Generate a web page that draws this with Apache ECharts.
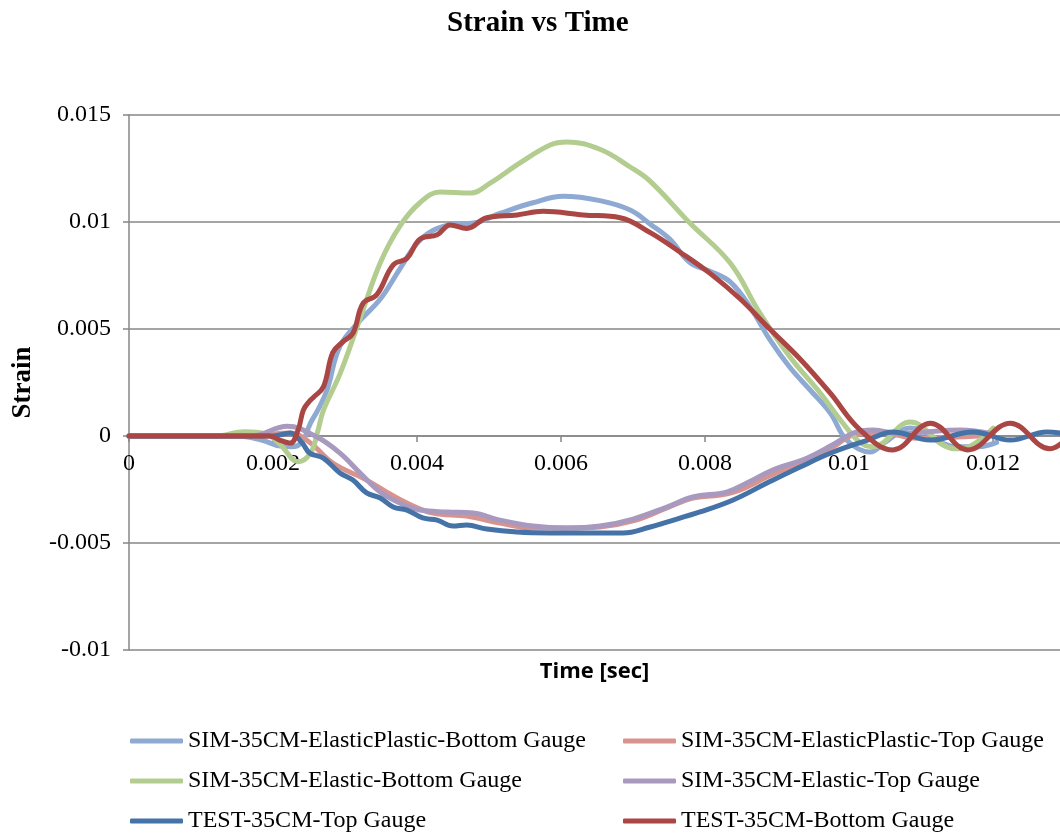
<!DOCTYPE html>
<html>
<head>
<meta charset="utf-8">
<script src="https://cdn.jsdelivr.net/npm/echarts@6/dist/echarts.min.js"></script>
<style>html,body{margin:0;padding:0;background:#fff}#c{width:1060px;height:833px}</style>
</head>
<body>
<div id="c"></div>
<script>
const seriesNames = [
  'SIM-35CM-ElasticPlastic-Bottom Gauge',
  'SIM-35CM-ElasticPlastic-Top Gauge',
  'SIM-35CM-Elastic-Bottom Gauge',
  'SIM-35CM-Elastic-Top Gauge',
  'TEST-35CM-Top Gauge',
  'TEST-35CM-Bottom Gauge'
];
const xTicks = [0, 0.002, 0.004, 0.006, 0.008, 0.01, 0.012];
const yTicks = [-0.01, -0.005, 0, 0.005, 0.01, 0.015];

// SIM ElasticPlastic Bottom
const tEPB = [0,0.0015,0.00185,0.0021,0.00226,0.0024,0.00252,0.00262,0.00275,0.00293,0.00321,0.00349,0.00376,0.004,0.00422,0.0045,0.00478,0.00515,0.00561,0.00603,0.00654,0.00696,0.00724,0.00751,0.00779,0.00807,0.00835,0.00863,0.0089,0.00918,0.00946,0.00974,0.00997,0.01029,0.0105,0.01085,0.0115,0.0118,0.01205];
const sEPB = [0,0,-0.0002,-0.00047,-0.0005,-0.0003,0.0006,0.0012,0.00215,0.0042,0.0054,0.0064,0.0078,0.009,0.0096,0.0099,0.00995,0.0104,0.0109,0.0112,0.011,0.01056,0.0099,0.0092,0.0081,0.0077,0.0072,0.006,0.0045,0.0032,0.00215,0.00107,-0.0002,-0.00075,-0.0003,0.00037,-0.0005,-0.0005,-0.0003];

// SIM ElasticPlastic Top
const tEPT = [0,0.0017,0.00224,0.00251,0.00283,0.0033,0.00358,0.00386,0.00422,0.00469,0.00515,0.00561,0.00608,0.00654,0.007,0.00747,0.00783,0.00821,0.00849,0.00886,0.00932,0.00978,0.01006,0.01047,0.01094,0.0115,0.012];
const sEPT = [0,0,0.00014,-0.0003,-0.00126,-0.00206,-0.00262,-0.00313,-0.0036,-0.00374,-0.00407,-0.0043,-0.0043,-0.00425,-0.00397,-0.00336,-0.0029,-0.00276,-0.00252,-0.00192,-0.00121,-0.0005,0.00005,0.00014,-0.0001,-0.00005,0.00005];

// SIM Elastic Bottom
const tEB = [0,0.0012,0.0016,0.0019,0.0021,0.00235,0.00252,0.00262,0.0027,0.00293,0.00321,0.00349,0.00376,0.00404,0.00432,0.00474,0.00501,0.00543,0.00585,0.00608,0.00654,0.00696,0.00724,0.00779,0.00835,0.00876,0.00918,0.0096,0.00988,0.01015,0.01033,0.01085,0.0114,0.01155,0.012];
const sEB = [0,0,0.0002,0.0001,-0.0004,-0.0012,-0.0008,0.0002,0.0012,0.0029,0.0055,0.0081,0.0098,0.0109,0.0114,0.01135,0.0118,0.01276,0.0136,0.01374,0.0134,0.01257,0.0119,0.00995,0.00808,0.00575,0.00369,0.00201,0.00075,-0.0003,-0.0005,0.00065,-0.00056,-0.0006,0.00037];

// SIM Elastic Top
const tET = [0,0.0017,0.0022,0.00261,0.00293,0.00321,0.00349,0.00376,0.00404,0.00442,0.00478,0.00515,0.00561,0.00608,0.00654,0.007,0.00747,0.00783,0.0083,0.00858,0.00894,0.00942,0.00978,0.01006,0.01033,0.01071,0.0111,0.01154,0.012];
const sET = [0,0,0.00045,-0.00005,-0.0008,-0.00173,-0.00262,-0.00313,-0.00346,-0.00355,-0.0036,-0.00393,-0.00421,-0.0043,-0.00421,-0.00388,-0.00332,-0.00285,-0.00262,-0.0022,-0.00159,-0.00103,-0.0004,0.00014,0.00028,0.0001,0.0002,0.00028,0.0001];

// TEST Top
const tTT = [0,0.002,0.00224,0.0024,0.00251,0.0027,0.00293,0.00311,0.0033,0.00349,0.00367,0.00386,0.00408,0.00428,0.0045,0.00469,0.00497,0.00539,0.00585,0.00631,0.00686,0.00724,0.00747,0.00793,0.00839,0.00886,0.00932,0.00978,0.01025,0.01061,0.01113,0.01172,0.01224,0.01275,0.013];
const sTT = [0,0,0.00014,-0.0003,-0.0008,-0.00103,-0.00173,-0.00206,-0.00266,-0.0029,-0.00332,-0.00346,-0.00383,-0.00393,-0.00421,-0.00416,-0.00435,-0.00449,-0.00453,-0.00453,-0.00453,-0.00425,-0.00402,-0.00355,-0.00299,-0.0022,-0.00145,-0.00075,-0.0002,0.00019,-0.00019,0.00019,-0.00019,0.00019,0.0001];

// TEST Bottom
const tTB = [0,0.0014,0.00195,0.0021,0.00224,0.00235,0.00242,0.0025,0.00256,0.0027,0.00283,0.00297,0.00311,0.00325,0.00344,0.00367,0.00386,0.00404,0.00428,0.00446,0.00469,0.00497,0.00539,0.00575,0.00631,0.00682,0.00724,0.00765,0.00807,0.00849,0.0089,0.00932,0.00974,0.01015,0.01061,0.01113,0.01165,0.01224,0.01279,0.013];
const sTB = [0,0,0,-0.0002,-0.00033,0.0003,0.0012,0.0016,0.0018,0.0023,0.0039,0.0044,0.0048,0.0062,0.0066,0.008,0.0083,0.0092,0.0094,0.00986,0.0097,0.0102,0.01033,0.0105,0.01033,0.0102,0.0095,0.0086,0.0076,0.0064,0.005,0.0036,0.002,0.0003,-0.00065,0.0006,-0.00065,0.0006,-0.0006,-0.0002];

const colors = ['#8EAAD2', '#D8938F', '#B3CD90', '#A899BF', '#4572A7', '#AA4643'];
const times = [tEPB, tEPT, tEB, tET, tTT, tTB];
const vals = [sEPB, sEPT, sEB, sET, sTT, sTB];

const zip = (t, s) => t.map((x, i) => [x, s[i]]);
const serif = 'Liberation Serif';
const gray = '#878787';

// legend placement: column (0 = left, 1 = right) and row per series
const legendCol = [0, 1, 0, 1, 0, 1];
const legendRow = [0, 0, 1, 1, 2, 2];
const colLeft = [125, 618];
const rowTop = [724, 764, 804];

const yMin = -0.01, yMax = 0.015;
const gridTop = 115, gridBottomPx = 650;
// pixel offset that lifts the x axis from the plot bottom to the value 0
const zeroOffset = -(gridBottomPx - gridTop) * (0 - yMin) / (yMax - yMin);

const chart = echarts.init(document.getElementById('c'), null, {renderer: 'canvas'});
chart.setOption({
  animation: false,
  backgroundColor: '#fff',
  title: {
    text: 'Strain vs Time',
    left: 442, top: 4,
    textStyle: {fontFamily: serif, fontWeight: 'bold', fontSize: 29, color: '#000'}
  },
  grid: {left: 129, top: gridTop, right: 0, bottom: 833 - gridBottomPx, containLabel: false, outerBoundsMode: 'none'},
  xAxis: {
    type: 'value', min: 0, max: 0.01293, interval: 0.002,
    position: 'bottom', offset: zeroOffset,
    name: 'Time [sec]', nameLocation: 'middle', nameGap: 225,
    nameTextStyle: {fontFamily: 'Open Sans', fontWeight: 'bold', fontSize: 22, color: '#000'},
    axisLine: {onZero: false, lineStyle: {color: gray, width: 1.5}},
    axisTick: {show: true, length: 6, lineStyle: {color: gray, width: 1.5}},
    axisLabel: {
      margin: 16, fontFamily: serif, fontSize: 24, color: '#000', showMaxLabel: false,
      formatter: v => (xTicks.some(t => Math.abs(t - v) < 1e-9) ? String(+v.toFixed(4)) : '')
    },
    splitLine: {show: false}
  },
  yAxis: {
    type: 'value', min: yMin, max: yMax, interval: 0.005,
    name: 'Strain', nameLocation: 'middle', nameGap: 92, nameRotate: 90,
    nameTextStyle: {fontFamily: serif, fontWeight: 'bold', fontSize: 27, color: '#000'},
    axisLine: {show: true, onZero: false, lineStyle: {color: gray, width: 1.5}},
    axisTick: {show: true, length: 6, lineStyle: {color: gray, width: 1.5}},
    axisLabel: {
      margin: 18, fontFamily: serif, fontSize: 24, color: '#000',
      formatter: v => (yTicks.some(t => Math.abs(t - v) < 1e-9) ? String(+v.toFixed(4)) : '')
    },
    splitLine: {show: true, lineStyle: {color: gray, width: 1.5}}
  },
  legend: seriesNames.map((n, i) => ({
    data: [n],
    orient: 'horizontal',
    left: colLeft[legendCol[i]], top: rowTop[legendRow[i]],
    icon: 'roundRect', itemWidth: 53, itemHeight: 5,
    textStyle: {fontFamily: serif, fontSize: 24, color: '#000', lineHeight: 24}
  })),
  series: seriesNames.map((n, i) => ({
    name: n, type: 'line', smooth: 0.4, showSymbol: false, symbol: 'none',
    data: zip(times[i], vals[i]),
    lineStyle: {color: colors[i], width: 5, cap: 'round', join: 'round'},
    itemStyle: {color: colors[i]},
    clip: true
  }))
});
</script>
</body>
</html>
